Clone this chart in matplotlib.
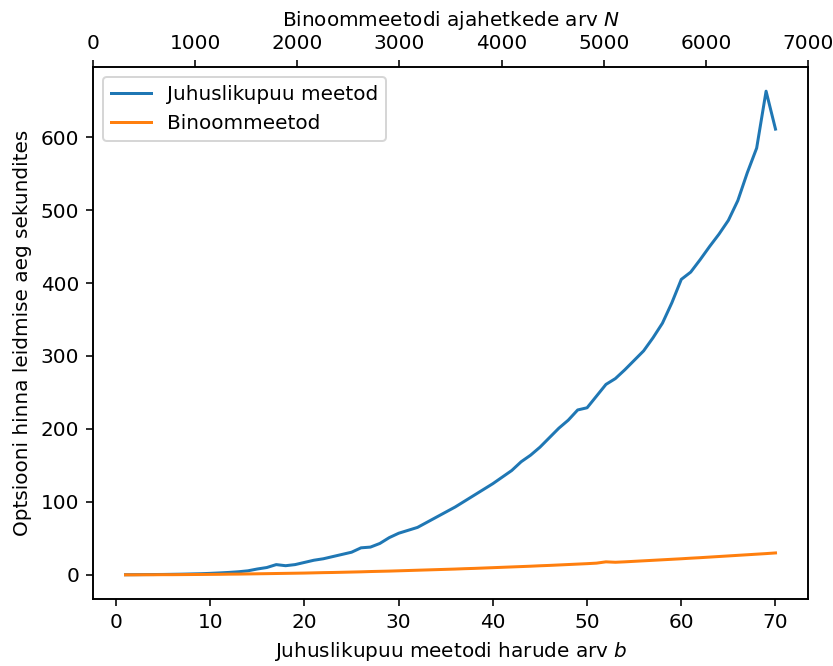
import numpy as np
import matplotlib
matplotlib.use('Agg')
import matplotlib.pyplot as plt

# juhuslikupuu meetodi harude arv b
b = np.arange(1, 71)

# juhuslikupuu meetod, aeg sekundites
t_tree = [0.1, 0.2, 0.3, 0.4, 0.5, 0.7, 0.9, 1.2, 1.5, 2.0,
          2.6, 3.3, 4.2, 5.5, 8.0, 10.0, 14.0, 12.5, 14.0, 17.0,
          20.0, 22.0, 25.0, 28.0, 31.0, 37.0, 38.0, 43.0, 51.0, 57.0,
          61.0, 65.0, 72.0, 79.0, 86.0, 93.0, 101.0, 109.0, 117.0, 125.0,
          134.0, 143.0, 155.0, 164.0, 175.0, 188.0, 201.0, 212.0, 226.0, 229.0,
          245.0, 261.0, 269.0, 281.0, 294.0, 307.0, 325.0, 345.0, 373.0, 405.0,
          415.0, 432.0, 450.0, 467.0, 486.0, 513.0, 551.0, 585.0, 663.0, 611.0]

# binoommeetod, aeg sekundites
t_binom = [0.0, 0.0, 0.1, 0.1, 0.2, 0.2, 0.3, 0.4, 0.5, 0.6,
           0.7, 0.9, 1.0, 1.2, 1.4, 1.6, 1.8, 2.0, 2.2, 2.4,
           2.7, 3.0, 3.2, 3.5, 3.8, 4.1, 4.5, 4.8, 5.1, 5.5,
           5.9, 6.3, 6.7, 7.1, 7.5, 7.9, 8.4, 8.8, 9.3, 9.8,
           10.3, 10.8, 11.3, 11.8, 12.4, 12.9, 13.5, 14.1, 14.7, 15.3,
           16.0, 17.8, 17.2, 17.8, 18.5, 19.2, 19.9, 20.6, 21.3, 22.0,
           22.8, 23.5, 24.3, 25.1, 25.9, 26.7, 27.5, 28.3, 29.1, 30.0]

dpi = 144
fg = plt.figure(figsize=(833/dpi, 666/dpi), dpi=dpi)
fg.subplots_adjust(left=93/833, right=808/833, top=1-67/666, bottom=1-599/666)
ax = fg.gca()
ax.plot(b, t_tree, label='Juhuslikupuu meetod')
ax.plot(b, t_binom, label='Binoommeetod')
ax.set_xlabel('Juhuslikupuu meetodi harude arv $b$')
ax.set_ylabel('Optsiooni hinna leidmise aeg sekundites')
ax.legend(loc='upper left')

ax2 = ax.twiny()
ax2.set_xlim(0, 7000)
ax2.set_xlabel('Binoommeetodi ajahetkede arv $N$')

fg.savefig('out.png', dpi=dpi)
